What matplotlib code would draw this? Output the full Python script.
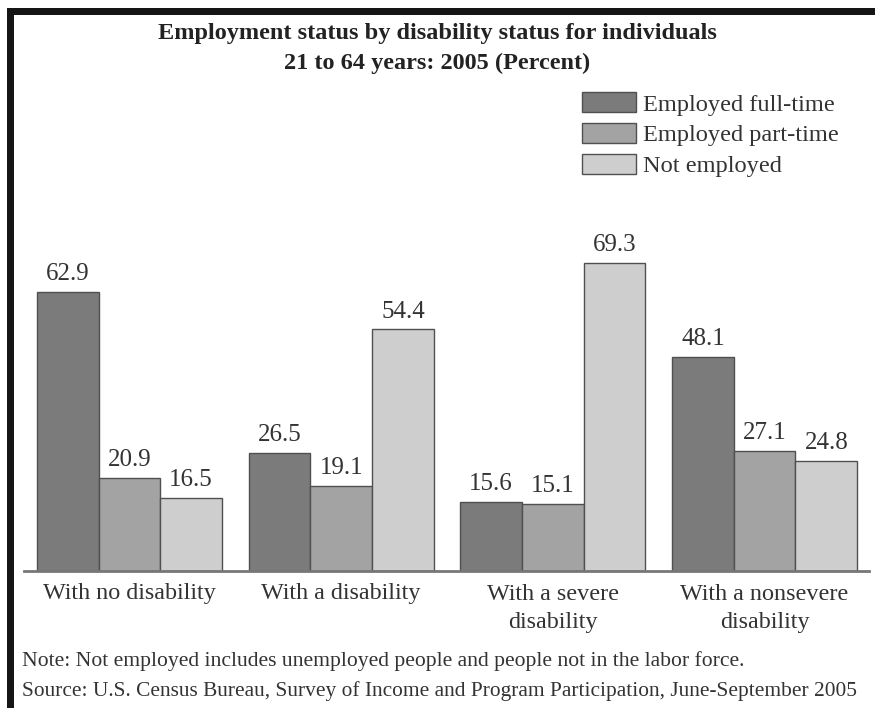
import matplotlib
matplotlib.use("Agg")
import matplotlib.pyplot as plt
from matplotlib.patches import Patch, Rectangle
import numpy as np

categories = ["With no disability", "With a disability", "With a severe\ndisability", "With a nonsevere\ndisability"]
series_names = ["Employed full-time", "Employed part-time", "Not employed"]
full_time = [62.9, 26.5, 15.6, 48.1]
part_time = [20.9, 19.1, 15.1, 27.1]
not_employed = [16.5, 54.4, 69.3, 24.8]
colors = ["#7b7b7b", "#a3a3a3", "#cecece"]
edge = "#505050"

plt.rcParams['font.family'] = ['Liberation Serif', 'DejaVu Serif']

W, H = 875, 708
fig = plt.figure(figsize=(W / 100, H / 100), dpi=100)
fig.patch.set_facecolor("white")

# partial black frame (top and left)
fig.add_artist(Rectangle((7 / W, 1 - 15 / H), (W - 7) / W, 7 / H, transform=fig.transFigure,
                         facecolor="#151515", edgecolor="none"))
fig.add_artist(Rectangle((7 / W, 0), 7 / W, 1 - 8 / H, transform=fig.transFigure,
                         facecolor="#151515", edgecolor="none"))

ax_left, ax_right = 24, 869
base_y, top_y = 571, 100
ax = fig.add_axes([ax_left / W, 1 - base_y / H, (ax_right - ax_left) / W, (base_y - top_y) / H])

px_per_unit = 4.44
ax.set_ylim(0, (base_y - top_y) / px_per_unit)
group_px = 211.7
ax.set_xlim(-(129.5 - ax_left) / group_px, (ax_right - 129.5) / group_px)

x = np.arange(len(categories))
bw = 61.7 / group_px
data = [full_time, part_time, not_employed]
for i, (vals, c, name) in enumerate(zip(data, colors, series_names)):
    pos = x + (i - 1) * bw
    bars = ax.bar(pos, vals, width=bw, color=c, edgecolor=edge, linewidth=1.0, label=name)
    for b, v in zip(bars, vals):
        ax.annotate(f"{v:.1f}", (b.get_x() + b.get_width() / 2, v), xytext=(0, 5),
                    textcoords="offset points", ha="center", va="bottom",
                    fontsize=18, color="#333333")

for s in ["top", "right", "left"]:
    ax.spines[s].set_visible(False)
ax.spines["bottom"].set_color("#777777")
ax.spines["bottom"].set_linewidth(2)
ax.set_yticks([])
ax.set_xticks(x)
ax.set_xticklabels(categories, fontsize=17.4, color="#333333", linespacing=1.45)
ax.tick_params(axis="x", length=0, pad=9)

fig.text(0.5, 1 - 34 / H, "Employment status by disability status for individuals",
         ha="center", va="center", fontsize=17.5, fontweight="bold", color="#222222")
fig.text(0.5, 1 - 63 / H, "21 to 64 years: 2005 (Percent)",
         ha="center", va="center", fontsize=17.5, fontweight="bold", color="#222222")

handles = [Patch(facecolor=c, edgecolor=edge, linewidth=1.0) for c in colors]
fig.legend(handles, series_names, loc="upper left", bbox_to_anchor=(582 / W, 1 - 92 / H),
           frameon=False, fontsize=17.6, handlelength=2.2, handleheight=0.9,
           handletextpad=0.3, labelspacing=0.3, borderpad=0, borderaxespad=0,
           labelcolor="#333333")

fig.text(22 / W, 1 - 661 / H,
         "Note: Not employed includes unemployed people and people not in the labor force.",
         ha="left", va="center", fontsize=15.6, color="#333333")
fig.text(22 / W, 1 - 691 / H,
         "Source: U.S. Census Bureau, Survey of Income and Program Participation, June-September 2005",
         ha="left", va="center", fontsize=15.4, color="#333333")

fig.savefig("out.png", dpi=100)
